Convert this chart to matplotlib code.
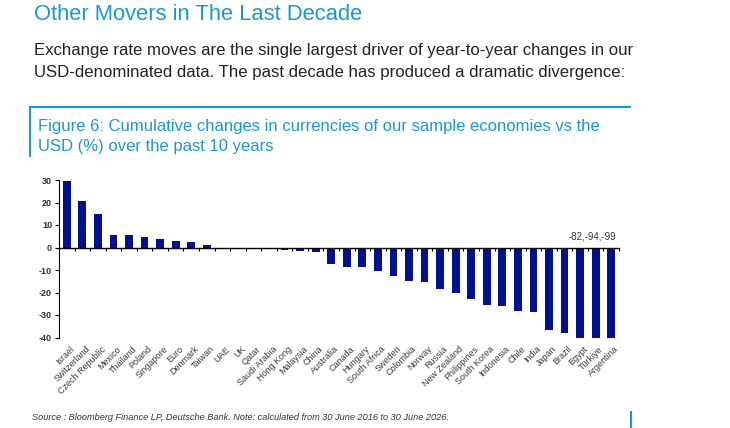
import numpy as np
import matplotlib
matplotlib.use("Agg")
import matplotlib.pyplot as plt
import matplotlib.transforms as mtransforms
from matplotlib import font_manager
from matplotlib.lines import Line2D

plt.rcParams["axes.unicode_minus"] = False

available = set(f.name for f in font_manager.fontManager.ttflist)
narrow = "Liberation Sans Narrow" if "Liberation Sans Narrow" in available else "Liberation Sans"
plain = "Liberation Sans"

countries = ["Israel", "Switzerland", "Czech Republic", "Mexico", "Thailand", "Poland",
             "Singapore", "Euro", "Denmark", "Taiwan", "UAE", "UK", "Qatar", "Saudi Arabia",
             "Hong Kong", "Malaysia", "China", "Australia", "Canada", "Hungary", "South Africa",
             "Sweden", "Colombia", "Norway", "Russia", "New Zealand", "Philippines",
             "South Korea", "Indonesia", "Chile", "India", "Japan", "Brazil", "Egypt",
             "Türkiye", "Argentina"]
changes = [29.6, 20.6, 14.8, 5.6, 5.6, 4.6, 4.0, 3.0, 2.5, 1.1, 0.0, 0.0, 0.0, 0.0,
           -1.0, -1.5, -2.0, -7.3, -8.7, -8.7, -10.4, -12.6, -14.8, -15.4, -18.5, -20.3,
           -23.1, -25.6, -26.2, -28.1, -28.7, -36.6, -37.8, -82.0, -94.0, -99.0]
offscale_note = "-82,-94,-99"

blue = "#1a96d8"
navy = "#00108f"
grey = "#333333"

if narrow == plain:
    title_size, body_size = 15.8, 12.1
else:
    title_size, body_size = 17.5, 13.5

fig = plt.figure(figsize=(7.3, 4.28), dpi=100)

# header text
fig.text(34 / 730, 1 - 14 / 428, "Other Movers in The Last Decade", color=blue,
         fontsize=title_size, family=narrow, va="center", ha="left")
fig.text(34 / 730, 1 - 50 / 428,
         "Exchange rate moves are the single largest driver of year-to-year changes in our",
         color="#222222", fontsize=body_size, family=narrow, va="center", ha="left")
fig.text(34 / 730, 1 - 73 / 428,
         "USD-denominated data. The past decade has produced a dramatic divergence:",
         color="#222222", fontsize=body_size, family=narrow, va="center", ha="left")

# figure caption box
fig.add_artist(Line2D([29.5 / 730, 630 / 730], [1 - 107 / 428, 1 - 107 / 428],
                      color=blue, lw=1.5))
fig.add_artist(Line2D([29.5 / 730, 29.5 / 730], [1 - 107 / 428, 1 - 156 / 428],
                      color=blue, lw=1.5))
fig.text(38 / 730, 1 - 126 / 428,
         "Figure 6: Cumulative changes in currencies of our sample economies vs the",
         color=blue, fontsize=12, family=plain, va="center", ha="left")
fig.text(38 / 730, 1 - 147 / 428, "USD (%) over the past 10 years",
         color=blue, fontsize=12, family=plain, va="center", ha="left")

# chart
ax = fig.add_axes([59 / 730, 1 - 337.5 / 428, 560 / 730, 157.5 / 428])
x = np.arange(len(countries))
ax.bar(x, changes, width=0.5, color=navy, zorder=2)
ax.set_xlim(-0.5, len(countries) - 0.5)
ax.set_ylim(-40, 30)
ax.set_yticks(np.arange(-40, 31, 10))
ax.tick_params(axis="y", labelsize=6.5, labelcolor=grey, length=3, width=0.8,
               direction="out", pad=2)
for lab in ax.get_yticklabels():
    lab.set_family(plain)
    lab.set_fontweight("bold")

for side in ["top", "right"]:
    ax.spines[side].set_visible(False)
ax.spines["left"].set_linewidth(0.8)
ax.spines["bottom"].set_position(("data", 0))
ax.spines["bottom"].set_linewidth(1.0)
ax.spines["bottom"].set_zorder(3)
ax.set_xticks(np.arange(-0.5, len(countries)), minor=True)
ax.set_xticks([])
ax.tick_params(axis="x", which="minor", length=2.5, width=0.8, direction="out")

# country labels sit under the plot area, below -40
sec = ax.secondary_xaxis("bottom")
sec.set_xticks(x)
sec.set_xticklabels(countries, rotation=45, ha="right", rotation_mode="anchor",
                    fontsize=6.5, color="#3a3a3a", family=plain)
sec.tick_params(axis="x", length=0, pad=5)
sec.spines["bottom"].set_visible(False)
shift = mtransforms.ScaledTranslation(3 / 100, 0, fig.dpi_scale_trans)
for lab in sec.get_xticklabels():
    lab.set_transform(lab.get_transform() + shift)

ax.text(33.8, 5, offscale_note, fontsize=7, color=grey, family=plain,
        ha="center", va="center")

# source line
fig.text(32 / 730, 1 - 418 / 428,
         "Source : Bloomberg Finance LP, Deutsche Bank. Note: calculated from 30 June 2016 to 30 June 2026.",
         fontsize=6.6, style="italic", color=grey, family=plain, va="center", ha="left")
fig.add_artist(Line2D([631 / 730, 631 / 730], [1 - 412 / 428, 0.0], color=blue, lw=1.5))

fig.savefig("out.png", dpi=100)
